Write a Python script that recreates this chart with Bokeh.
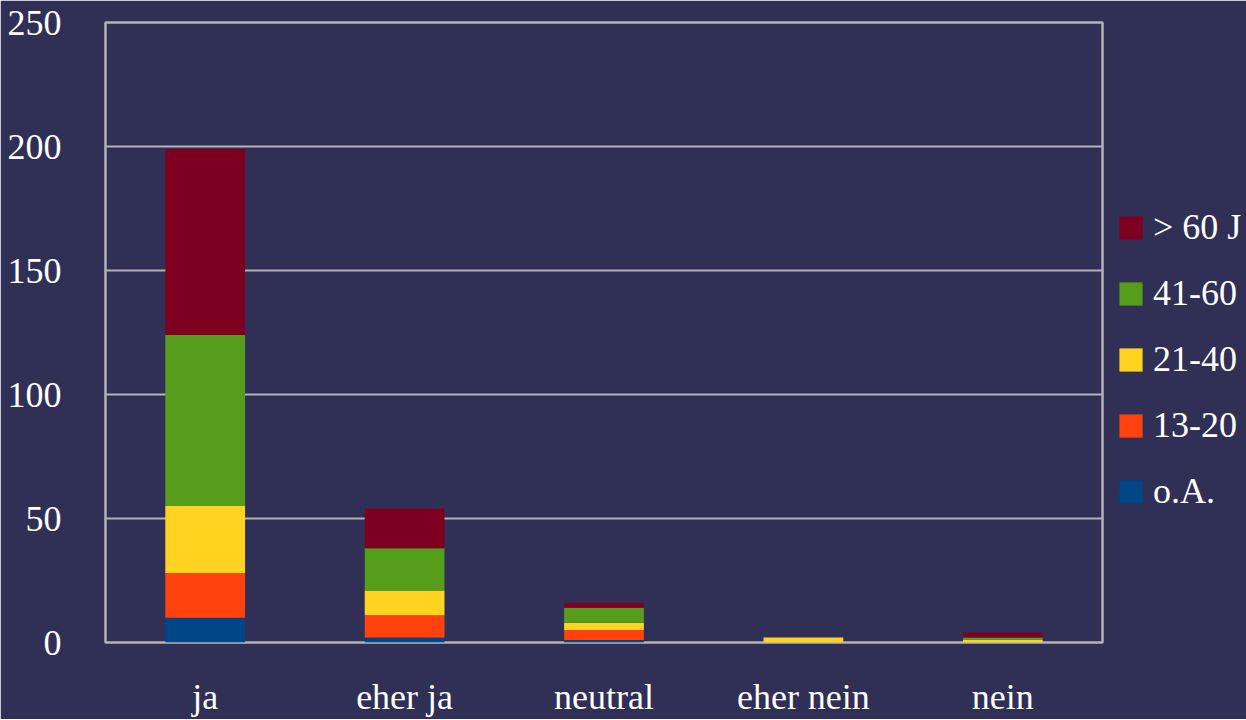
from bokeh.plotting import figure
from bokeh.models import Range1d, FactorRange, Legend, LegendItem, ColumnDataSource
from bokeh.embed import file_html
from bokeh.resources import INLINE

categories = ["ja", "eher ja", "neutral", "eher nein", "nein"]
groups = ["o.A.", "13-20", "21-40", "41-60", "> 60 J"]
oa = [10, 2, 1, 0, 0]
g13_20 = [18, 9, 4, 0, 0]
g21_40 = [27, 10, 3, 2, 1]
g41_60 = [69, 17, 6, 0, 1]
g60 = [75, 16, 2, 0, 2]
colors = ["#004586", "#ff420e", "#ffd320", "#579d1c", "#7e0021"]
y_ticks = [0, 50, 100, 150, 200, 250]

bg = "#302f55"
grey = "#b4b4b4"
font = "Liberation Serif"

data = {"cat": categories, "o.A.": oa, "13-20": g13_20, "21-40": g21_40,
        "41-60": g41_60, "> 60 J": g60}
src = ColumnDataSource(data)

p = figure(x_range=FactorRange(*categories), y_range=Range1d(0, 250),
           frame_width=997, frame_height=620,
           min_border_left=105, min_border_top=22, min_border_bottom=74,
           min_border_right=0,
           output_backend="svg", toolbar_location=None)

renderers = p.vbar_stack(groups, x="cat", width=0.4, source=src, color=colors,
                         line_color=None)

p.background_fill_color = bg
p.border_fill_color = bg
p.outline_line_color = grey
p.outline_line_width = 2.5

p.x_range.range_padding = 0
p.yaxis.ticker = y_ticks
p.xgrid.grid_line_color = None
p.ygrid.grid_line_color = grey
p.ygrid.grid_line_width = 2

for ax in (p.xaxis[0], p.yaxis[0]):
    ax.axis_line_color = None
    ax.major_tick_line_color = None
    ax.minor_tick_line_color = None
    ax.major_label_text_font = font
    ax.major_label_text_font_size = "36px"
    ax.major_label_text_color = "white"
p.yaxis.major_label_standoff = 38
p.xaxis.major_label_standoff = 28

items = [LegendItem(label=g, renderers=[r]) for g, r in zip(groups, renderers)][::-1]
legend = Legend(items=items, location=(14, 130), margin=0, padding=0,
                glyph_width=29, glyph_height=29, label_standoff=8,
                spacing=24, label_text_font=font, label_text_font_size="36px",
                label_text_color="white", border_line_alpha=0,
                background_fill_alpha=0)
p.add_layout(legend, "right")

open("out.html", "w").write(file_html(p, INLINE))
